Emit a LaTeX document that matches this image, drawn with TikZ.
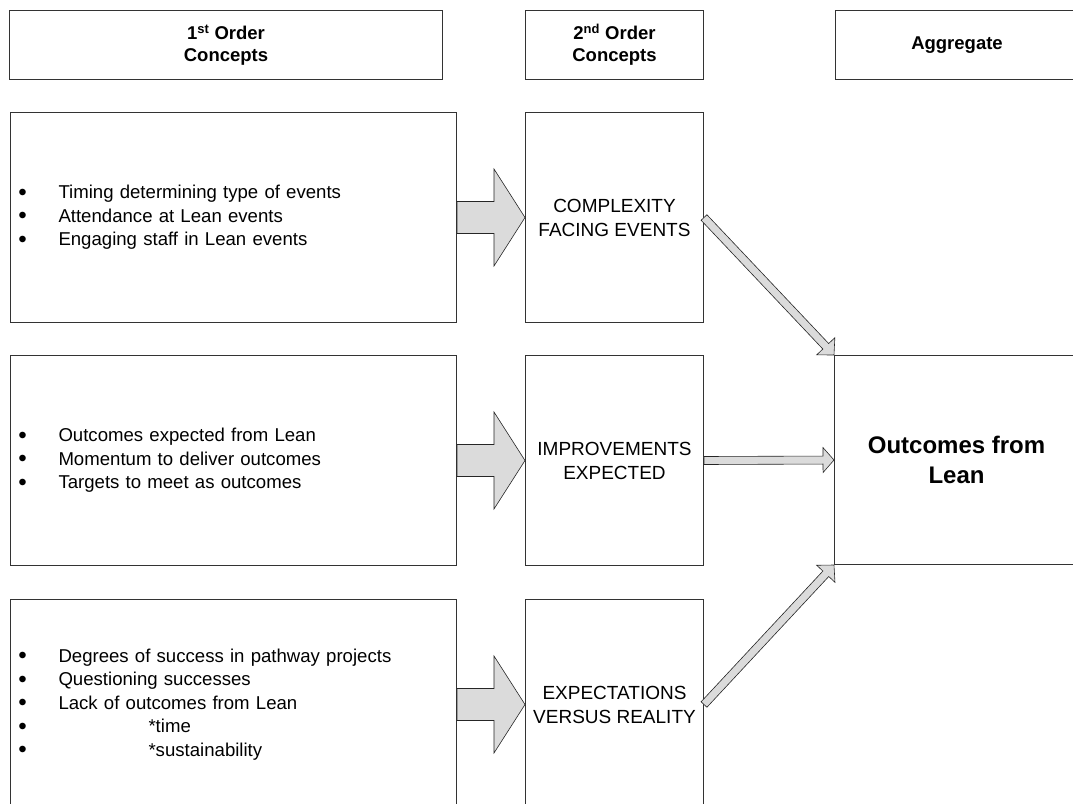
\documentclass[tikz,border=0pt]{standalone}
\usepackage{fontspec}
\usepackage{graphicx}
\setmainfont{Liberation Sans}
\usetikzlibrary{calc}

% bullet item with a fixed gap before its text
\newcommand\itm{\makebox[41pt][l]{\hspace{1pt}\smash{\raisebox{-1.2pt}{\scalebox{1.3}{\textbullet}}}}}

% block arrow from #2 to #3: shaft half-width #4, head half-width #5, head length #6
\newcommand\drawblockarrow[6][]{%
  \coordinate (ba-h) at ($(#3)!#6!(#2)$);
  \draw[blockarrow,#1] ($(#2)!#4!90:(#3)$) -- ($(ba-h)!#4!90:(#3)$)
    -- ($(ba-h)!#5!90:(#3)$) -- (#3) -- ($(ba-h)!#5!-90:(#3)$)
    -- ($(ba-h)!#4!-90:(#3)$) -- ($(#2)!#4!-90:(#3)$) -- cycle;}

\begin{document}
\begin{tikzpicture}[x=1pt,y=-1pt,
  box/.style={draw=black!80,line width=1pt,anchor=north west,inner sep=0pt,
    align=center,font=\fontsize{19}{24}\selectfont},
  headbox/.style={box,minimum height=69pt,font=\bfseries\fontsize{18.5}{22}\selectfont},
  listbox/.style={box,minimum height=210pt,text width=432pt,inner xsep=7pt,
    align=left,font=\fontsize{18.6}{23.5}\selectfont},
  midbox/.style={box,minimum width=178pt,minimum height=210pt},
  blockarrow/.style={draw=black!85,line width=0.6pt,fill=black!14,line join=miter}]

\useasboundingbox (0,0) rectangle (1073,803);
\clip (0,0) rectangle (1073,803);

% column headings
\node[headbox,minimum width=433pt] (h1) at (9,10) {1\textsuperscript{st} Order\\Concepts};
\node[headbox,minimum width=178pt] (h2) at (525,10) {2\textsuperscript{nd} Order\\Concepts};
\node[headbox,minimum width=243pt] (h3) at (835,10) {Aggregate};

% first order concepts
\node[listbox] (l1) at (10,112) {\itm Timing determining type of events\\
  \itm Attendance at Lean events\\ \itm Engaging staff in Lean events};
\node[listbox] (l2) at (10,355) {\itm Outcomes expected from Lean\\
  \itm Momentum to deliver outcomes\\ \itm Targets to meet as outcomes};
\node[listbox] (l3) at (10,599) {\itm Degrees of success in pathway projects\\
  \itm Questioning successes\\ \itm Lack of outcomes from Lean\\
  \itm\hspace{90pt}*time\\ \itm\hspace{90pt}*sustainability};

% second order concepts
\node[midbox] (m1) at (525,112) {COMPLEXITY\\FACING EVENTS};
\node[midbox] (m2) at (525,355) {IMPROVEMENTS\\EXPECTED};
\node[midbox] (m3) at (525,599) {EXPECTATIONS\\VERSUS REALITY};

% aggregate dimension
\node[box,minimum width=244pt,minimum height=209pt,
  font=\bfseries\fontsize{24}{30}\selectfont] (out) at (834,355) {Outcomes from\\Lean};

% wide arrows into the second order concepts
\drawblockarrow{l1.east}{m1.west}{16pt}{48.5pt}{31pt}
\drawblockarrow{l2.east}{m2.west}{16pt}{48.5pt}{31pt}
\drawblockarrow{l3.east}{m3.west}{16pt}{48.5pt}{31pt}

% narrow arrows into the aggregate
\drawblockarrow{m1.east}{out.north west}{4pt}{12.5pt}{12pt}
\drawblockarrow{m2.east}{out.west}{4pt}{12.5pt}{11pt}
\drawblockarrow{m3.east}{out.south west}{4pt}{12.5pt}{12pt}
\end{tikzpicture}
\end{document}
